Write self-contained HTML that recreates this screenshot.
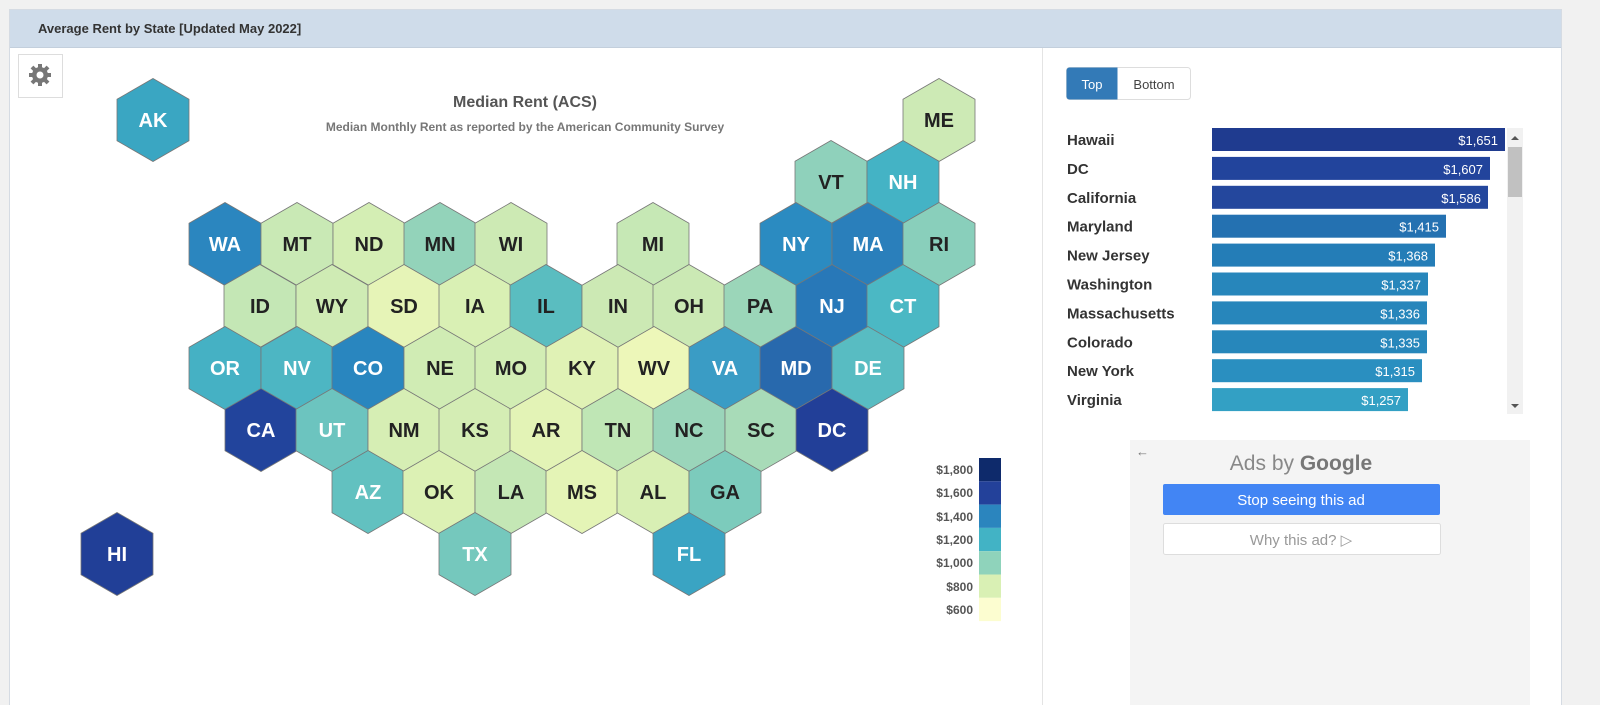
<!DOCTYPE html>
<html style="width:1600px;height:705px;overflow:hidden"><head><style>
body{margin:0;width:1600px;height:705px;background:#f1f1f1;font-family:"Liberation Sans",Arial,sans-serif;overflow:hidden;position:relative}
.panel{position:absolute;left:9px;top:9px;width:1551px;height:696px;background:#fff;border:1px solid #d5dbe3;border-bottom:none}
.hdr{height:37px;background:#cfdcea;border-bottom:1px solid #c3cfdc;font-weight:bold;font-size:13px;color:#333;line-height:38px;padding-left:28px}
.div{position:absolute;left:1032px;top:38px;width:1px;height:658px;background:#e4e4e4}
</style></head><body>
<div class="panel"><div class="hdr">Average Rent by State [Updated May 2022]</div><div class="div"></div></div>
<svg width="1600" height="705" style="position:absolute;left:0;top:0">
<rect x="18.5" y="54.5" width="44" height="43" fill="#fff" stroke="#ddd"/>
<g transform="translate(40,75)" fill="#777">
<circle r="8"/><g stroke="#777" stroke-width="4"><line x1="0" y1="-11" x2="0" y2="11"/><line x1="-11" y1="0" x2="11" y2="0"/><line x1="-8" y1="-8" x2="8" y2="8"/><line x1="-8" y1="8" x2="8" y2="-8"/></g><circle r="3.5" fill="#fff"/></g>
<text x="525" y="107" text-anchor="middle" font-size="16" font-weight="bold" fill="#555">Median Rent (ACS)</text>
<text x="525" y="131" text-anchor="middle" font-size="12" font-weight="bold" fill="#777">Median Monthly Rent as reported by the American Community Survey</text>
<defs><path id="h" d="M0,-41.5 L36,-20.75 L36,20.75 L0,41.5 L-36,20.75 L-36,-20.75Z"/></defs>
<g id="hexes" stroke="#777" stroke-width="0.8" font-size="20" font-weight="bold" text-anchor="middle"></g>
<g font-size="12" font-weight="bold" fill="#555" text-anchor="end">
<rect x="979" y="458" width="22" height="23.3" fill="#0e2a6b"/><rect x="979" y="481.3" width="22" height="23.3" fill="#23419a"/><rect x="979" y="504.6" width="22" height="23.3" fill="#2b85be"/><rect x="979" y="527.9" width="22" height="23.3" fill="#42b3c5"/><rect x="979" y="551.2" width="22" height="23.3" fill="#8fd3bb"/><rect x="979" y="574.5" width="22" height="23.3" fill="#d9f0b4"/><rect x="979" y="597.8" width="22" height="23.3" fill="#fcfdd0"/>
<text x="973" y="474">$1,800</text><text x="973" y="497">$1,600</text><text x="973" y="521">$1,400</text><text x="973" y="544">$1,200</text><text x="973" y="567">$1,000</text><text x="973" y="591">$800</text><text x="973" y="614">$600</text>
</g>
<rect x="1066.5" y="67.5" width="124" height="32" rx="3" fill="#fff" stroke="#ddd"/>
<path d="M1069.5,67.5 h48 v32 h-48 a3,3 0 0 1 -3,-3 v-26 a3,3 0 0 1 3,-3z" fill="#337ab7"/>
<text x="1092" y="89" text-anchor="middle" font-size="13" fill="#fff">Top</text>
<text x="1154" y="89" text-anchor="middle" font-size="13" fill="#444">Bottom</text>
<g id="bars" font-size="15" font-weight="bold" fill="#333"></g>
<rect x="1507" y="128" width="16" height="286" fill="#f1f1f1"/><rect x="1508" y="147" width="14" height="50" fill="#c1c1c1"/>
<path d="M1511,140 l4,-4 l4,4z M1511,404 l4,4 l4,-4z" fill="#555"/>
<rect x="1130" y="440" width="400" height="270" fill="#f4f4f4"/>
<text x="1136" y="456" font-size="13" fill="#777">←</text>
<text x="1301" y="470" text-anchor="middle" font-size="21" fill="#888">Ads by <tspan font-weight="bold" fill="#777">Google</tspan></text>
<rect x="1163" y="484" width="277" height="31" rx="2" fill="#4285f4"/>
<text x="1301" y="505" text-anchor="middle" font-size="15" fill="#fff">Stop seeing this ad</text>
<rect x="1163.5" y="523.5" width="277" height="31" rx="2" fill="#fff" stroke="#ddd"/>
<text x="1301" y="545" text-anchor="middle" font-size="15" fill="#999">Why this ad? ▷</text>
</svg>
<script>
var H=[["AK",153,120,"#3aa6c2",1],["ME",939,120,"#cdeab5",0],["VT",831,182,"#8fd1bb",0],["NH",903,182,"#44b3c5",1],
["WA",225,244,"#2b86bf",1],["MT",297,244,"#c9e9b5",0],["ND",369,244,"#d4eeb4",0],["MN",440,244,"#93d3ba",0],["WI",511,244,"#cdeab4",0],["MI",653,244,"#c6e8b5",0],["NY",796,244,"#2b8bc1",1],["MA",868,244,"#2a7fbb",1],["RI",939,244,"#89cfbb",0],
["ID",260,306,"#c4e7b5",0],["WY",332,306,"#cfebb4",0],["SD",404,306,"#e6f4b7",0],["IA",475,306,"#d9f0b4",0],["IL",546,306,"#5abdc0",0],["IN",618,306,"#cce9b4",0],["OH",689,306,"#cbe9b4",0],["PA",760,306,"#9bd6b9",0],["NJ",832,306,"#2878b8",1],["CT",903,306,"#4bb8c4",1],
["OR",225,368,"#45b1c4",1],["NV",297,368,"#4db6c3",1],["CO",368,368,"#2986bf",1],["NE",440,368,"#d0ecb4",0],["MO",511,368,"#d2edb4",0],["KY",582,368,"#e0f2b5",0],["WV",654,368,"#edf7b9",0],["VA",725,368,"#3a9cc5",1],["MD",796,368,"#2869ad",1],["DE",868,368,"#58bcc2",1],
["CA",261,430,"#22449c",1],["UT",332,430,"#6cc4bf",1],["NM",404,430,"#d6eeb4",0],["KS",475,430,"#d4edb4",0],["AR",546,430,"#e3f3b6",0],["TN",618,430,"#bfe6b5",0],["NC",689,430,"#9ad5ba",0],["SC",761,430,"#a8dbb8",0],["DC",832,430,"#223f98",1],
["AZ",368,492,"#62c1c0",1],["OK",439,492,"#dcf1b4",0],["LA",511,492,"#c4e7b5",0],["MS",582,492,"#e4f4b6",0],["AL",653,492,"#d8efb4",0],["GA",725,492,"#7ccbbc",0],
["TX",475,554,"#75c8bd",1],["FL",689,554,"#3aa4c3",1],["HI",117,554,"#213f97",1]];
var s="";H.forEach(function(a){s+='<use href="#h" x="'+a[1]+'" y="'+a[2]+'" fill="'+a[3]+'"/><text x="'+a[1]+'" y="'+(a[2]+7)+'" stroke="none" fill="'+(a[4]?"#fff":"#222")+'">'+a[0]+'</text>';});
document.getElementById("hexes").innerHTML=s;
var B=[["Hawaii",1505,"$1,651","#1f3b8f"],["DC",1490,"$1,607","#22449c"],["California",1488,"$1,586","#24479d"],["Maryland",1446,"$1,415","#2471b1"],["New Jersey",1435,"$1,368","#247db7"],["Washington",1428,"$1,337","#2786bb"],["Massachusetts",1427,"$1,336","#2786bb"],["Colorado",1427,"$1,335","#2787bb"],["New York",1422,"$1,315","#2a8fc0"],["Virginia",1408,"$1,257","#33a0c4"]];
var t="";B.forEach(function(b,i){var y=128+i*28.9;t+='<text x="1067" y="'+(y+17)+'">'+b[0]+'</text><rect x="1212" y="'+y+'" width="'+(b[1]-1212)+'" height="23" fill="'+b[3]+'"/><text x="'+(b[1]-7)+'" y="'+(y+17)+'" text-anchor="end" font-size="13" font-weight="normal" fill="#fff">'+b[2]+'</text>';});
document.getElementById("bars").innerHTML=t;
</script>
</body></html>
